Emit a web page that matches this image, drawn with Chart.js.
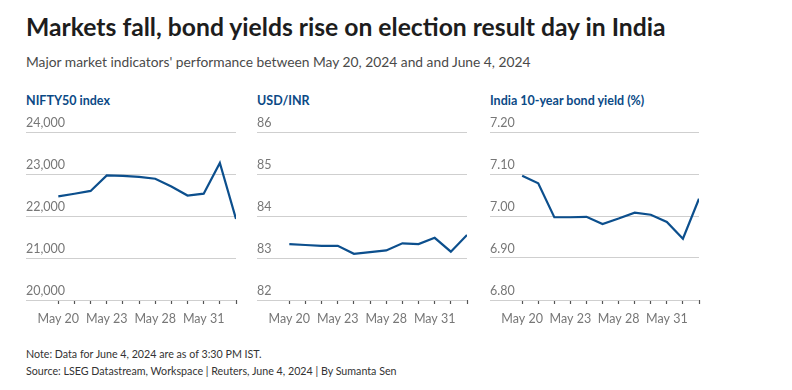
<!DOCTYPE html>
<html>
<head>
<meta charset="utf-8">
<script src="https://cdn.jsdelivr.net/npm/chart.js@4.4.1/dist/chart.umd.min.js"></script>
<style>
  html, body { margin: 0; padding: 0; background: #fff; }
  body { width: 792px; height: 390px; position: relative; overflow: hidden; font-family: Lato, "Noto Sans", sans-serif; }
  .title { position: absolute; left: 26px; top: 12px; font-size: 24.7px; font-weight: 700; color: #1d1d1d; white-space: nowrap; }
  .subtitle { position: absolute; left: 26px; top: 53px; font-size: 13.8px; color: #4a4a4a; white-space: nowrap; }
  .ptitle { position: absolute; top: 93px; font-size: 12.5px; font-weight: 700; color: #0b4a86; white-space: nowrap; }
  .box { position: absolute; top: 108px; height: 225px; }
  .note { position: absolute; left: 26px; font-size: 10.7px; color: #333; white-space: nowrap; }
</style>
</head>
<body>
<div class="title">Markets fall, bond yields rise on election result day in India</div>
<div class="subtitle">Major market indicators' performance between May 20, 2024 and and June 4, 2024</div>

<div class="ptitle" style="left:26px">NIFTY50 index</div>
<div class="ptitle" style="left:257px">USD/INR</div>
<div class="ptitle" style="left:490px">India 10-year bond yield (%)</div>

<div class="box" style="left:26px;width:217px"><canvas id="niftyChart"></canvas></div>
<div class="box" style="left:257px;width:217px"><canvas id="inrChart"></canvas></div>
<div class="box" style="left:490px;width:216px"><canvas id="bondChart"></canvas></div>

<div class="note" style="top:347px">Note: Data for June 4, 2024 are as of 3:30 PM IST.</div>
<div class="note" style="top:364px">Source: LSEG Datastream, Workspace | Reuters, June 4, 2024 | By Sumanta Sen</div>

<script>
// trading days shown on the x axis
const dates = ['May 20', 'May 21', 'May 22', 'May 23', 'May 24', 'May 27',
               'May 28', 'May 29', 'May 30', 'May 31', 'Jun 3', 'Jun 4'];
const labelledDates = ['May 20', 'May 23', 'May 28', 'May 31'];

const niftyValues = [22466, 22529, 22597, 22967, 22957, 22932, 22888, 22704, 22488, 22531, 23264, 21930];
const inrValues = [83.33, 83.31, 83.29, 83.29, 83.10, 83.14, 83.18, 83.35, 83.33, 83.48, 83.15, 83.55];
const bondValues = [7.096, 7.078, 6.997, 6.997, 6.998, 6.981, 6.994, 7.008, 7.003, 6.986, 6.946, 7.041];

const niftyTicks = [20000, 21000, 22000, 23000, 24000];
const inrTicks = [82, 83, 84, 85, 86];
const bondTicks = [6.80, 6.90, 7.00, 7.10, 7.20];

const LINE_COLOR = '#0c4f8d';
const TEXT_GREY = '#777';
const FONT = 'Lato, "Noto Sans", sans-serif';

function buildLineChart(canvasId, values, yTicks, formatTick) {
    const ctx = document.getElementById(canvasId);
    return new Chart(ctx.getContext('2d'), {
        type: 'line',
        data: {
            datasets: [{
                data: values.map((v, i) => ({ x: i, y: v })),
                borderColor: LINE_COLOR,
                borderWidth: 2.2,
                pointRadius: 0,
                tension: 0,
                fill: false
            }]
        },
        options: {
            responsive: true,
            maintainAspectRatio: false,
            animation: false,
            layout: { padding: { top: 24, left: 0, right: 0, bottom: 0 } },
            plugins: {
                legend: { display: false },
                tooltip: { enabled: false }
            },
            scales: {
                x: {
                    type: 'linear',
                    min: -2,
                    max: dates.length - 1,
                    afterBuildTicks: axis => {
                        axis.ticks = dates.map((d, i) => ({ value: i }));
                    },
                    grid: {
                        drawOnChartArea: false,
                        drawTicks: true,
                        tickLength: 4,
                        tickWidth: 1.2,
                        tickColor: '#555'
                    },
                    border: { display: false },
                    ticks: {
                        autoSkip: false,
                        maxRotation: 0,
                        padding: 7,
                        color: TEXT_GREY,
                        font: { family: FONT, size: 12.5 },
                        callback: value => {
                            const d = dates[value];
                            return labelledDates.includes(d) ? d : '';
                        }
                    }
                },
                y: {
                    min: yTicks[0],
                    max: yTicks[yTicks.length - 1],
                    afterBuildTicks: axis => {
                        axis.ticks = yTicks.map(v => ({ value: v }));
                    },
                    grid: {
                        color: '#cfcfcf',
                        lineWidth: 1,
                        drawTicks: false
                    },
                    border: { display: false },
                    ticks: {
                        mirror: true,
                        padding: 0,
                        labelOffset: -9,
                        color: TEXT_GREY,
                        font: { family: FONT, size: 12.5 },
                        callback: formatTick
                    }
                }
            }
        }
    });
}

buildLineChart('niftyChart', niftyValues, niftyTicks, v => v.toLocaleString('en-US'));
buildLineChart('inrChart', inrValues, inrTicks, v => String(v));
buildLineChart('bondChart', bondValues, bondTicks, v => v.toFixed(2));
</script>
</body>
</html>
